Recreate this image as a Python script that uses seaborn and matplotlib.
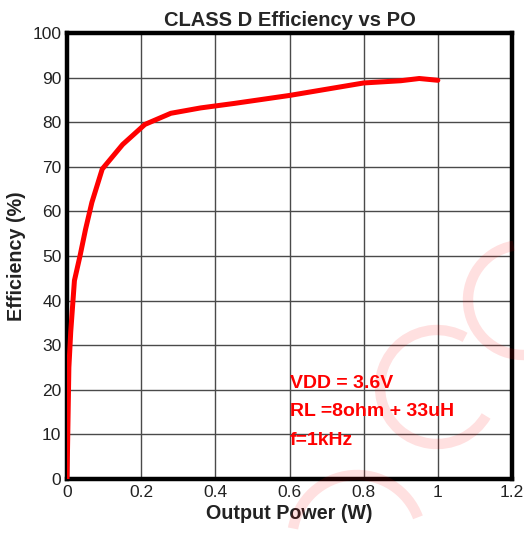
import matplotlib
matplotlib.use("Agg")
import matplotlib.pyplot as plt
from matplotlib.patches import Arc
import seaborn as sns
import pandas as pd

# values
output_power = [0.0, 0.002, 0.005, 0.01, 0.02, 0.035, 0.05, 0.067, 0.095, 0.15,
                0.21, 0.28, 0.36, 0.45, 0.6, 0.7, 0.8, 0.9, 0.95, 1.0]
efficiency = [0.0, 10.0, 25.0, 33.0, 44.5, 50.0, 56.0, 62.0, 69.5, 75.0,
              79.5, 82.0, 83.2, 84.2, 86.0, 87.4, 88.8, 89.3, 89.8, 89.4]
x_ticks = [0, 0.2, 0.4, 0.6, 0.8, 1, 1.2]
y_ticks = list(range(0, 101, 10))
notes = ["VDD = 3.6V", "RL =8ohm + 33uH", "f=1kHz"]

sns.set_style("white")
plt.rcParams['font.family'] = ['Liberation Sans', 'DejaVu Sans']

df = pd.DataFrame({"Output Power (W)": output_power, "Efficiency (%)": efficiency})

fig = plt.figure(figsize=(5.24, 5.35), dpi=100)
ax = fig.add_axes([0.1279, 0.1047, 0.8492, 0.8336])

sns.lineplot(data=df, x="Output Power (W)", y="Efficiency (%)", color="#ff0000",
             linewidth=3.6, ax=ax, zorder=3)

ax.set_xlim(0, 1.2)
ax.set_ylim(0, 100)
ax.set_xticks(x_ticks)
ax.set_xticklabels(["0", "0.2", "0.4", "0.6", "0.8", "1", "1.2"])
ax.set_yticks(y_ticks)
ax.grid(True, color="#4a4a4a", linewidth=1.0)
ax.tick_params(direction="in", length=4, width=1, labelsize=12.5, colors="black",
               labelcolor="#222222", pad=4)
for s in ax.spines.values():
    s.set_linewidth(3.2)
    s.set_color("black")

ax.set_title("CLASS D Efficiency vs PO", fontsize=14.5, fontweight="bold", pad=5)
ax.set_xlabel("Output Power (W)", fontsize=14.2, fontweight="bold", color="#222222",
              labelpad=3)
ax.set_ylabel("Efficiency (%)", fontsize=14.2, fontweight="bold", color="#222222",
              labelpad=5)

for i, t in enumerate(notes):
    ax.text(0.6, 21.5 - i * 6.4, t, color="#ff0000", fontsize=14,
            fontweight="bold", va="center", ha="left", zorder=4)

# faint watermark rings
W, H = 524, 535
for cx, cy, r, t1, t2 in [(437, 387, 57, 60, 330), (523, 300, 55, 100, 300),
                          (357, 540, 65, 20, 170)]:
    fig.patches.append(Arc((cx / W, 1 - cy / H), 2 * r / W, 2 * r / H,
                           theta1=t1, theta2=t2, transform=fig.transFigure,
                           color="#ff0000", alpha=0.12, linewidth=7.5, zorder=10))

fig.savefig("out.png", dpi=100)
